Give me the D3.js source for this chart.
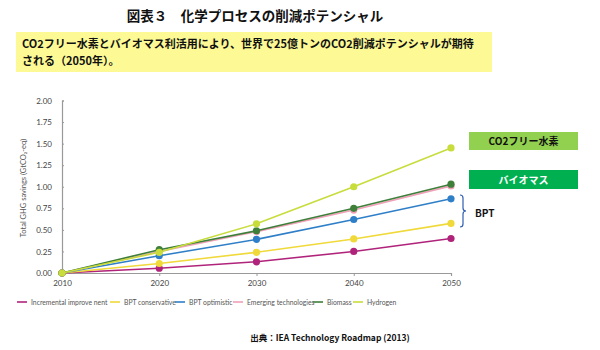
<!DOCTYPE html>
<html>
<head>
<meta charset="utf-8">
<script src="https://cdn.jsdelivr.net/npm/d3@7"></script>
<style>
  body { margin: 0; background: #fff; }
  svg { display: block; }
</style>
</head>
<body>
<div id="chart"></div>
<script>
var years = [2010, 2020, 2030, 2040, 2050];
var yTicks = [0, 0.25, 0.5, 0.75, 1.0, 1.25, 1.5, 1.75, 2.0];

var incremental = [0, 0.055, 0.13, 0.25, 0.40];
var bptConservative = [0, 0.11, 0.24, 0.395, 0.575];
var bptOptimistic = [0, 0.20, 0.39, 0.62, 0.86];
var emerging = [0, 0.25, 0.48, 0.73, 1.01];
var biomass = [0, 0.27, 0.49, 0.75, 1.03];
var hydrogen = [0, 0.24, 0.57, 1.00, 1.45];

var seriesNames = ["Incremental improve nent", "BPT conservative", "BPT optimistic",
    "Emerging technologies", "Biomass", "Hydrogen"];
var seriesColors = ["#b0237a", "#f0d93a", "#2f7fc8", "#f0a0b8", "#3e7f3a", "#c8dc3c"];
var seriesValues = [incremental, bptConservative, bptOptimistic, emerging, biomass, hydrogen];

var series = seriesNames.map(function (name, i) {
    return {name: name, color: seriesColors[i],
        points: years.map(function (yr, j) { return {x: yr, y: seriesValues[i][j]}; })};
});

var svg = d3.select("#chart").append("svg")
    .attr("width", 600)
    .attr("height", 350);

var jp = "'Noto Sans CJK JP', sans-serif";
var latin = "Lato, 'Open Sans', sans-serif";

// title
svg.append("text")
    .attr("x", 255).attr("y", 21)
    .attr("text-anchor", "middle")
    .attr("font-family", jp).attr("font-weight", "bold")
    .attr("font-size", 13.5).attr("fill", "#111")
    .text("図表３　化学プロセスの削減ポテンシャル");

// yellow note box
svg.append("rect")
    .attr("x", 16).attr("y", 32).attr("width", 476).attr("height", 40)
    .attr("fill", "#fdfa96");
svg.append("text")
    .attr("x", 22).attr("y", 48)
    .attr("font-family", jp).attr("font-weight", "bold")
    .attr("font-size", 11).attr("fill", "#111")
    .text("CO2フリー水素とバイオマス利活用により、世界で25億トンのCO2削減ポテンシャルが期待");
svg.append("text")
    .attr("x", 22).attr("y", 65)
    .attr("font-family", jp).attr("font-weight", "bold")
    .attr("font-size", 11).attr("fill", "#111")
    .text("される（2050年）。");

// plot
var x = d3.scaleLinear().domain([2010, 2050]).range([62, 451]);
var y = d3.scaleLinear().domain([0, 2]).range([273, 100.5]);

var xAxis = svg.append("g")
    .attr("transform", "translate(0,273)")
    .call(d3.axisBottom(x).tickValues(years).tickFormat(d3.format("d")).tickSize(3));
xAxis.select(".domain").attr("stroke", "#999").attr("stroke-width", 1.2);
xAxis.selectAll(".tick line").attr("stroke", "#999");
xAxis.selectAll("text")
    .attr("font-family", latin).attr("font-size", 8).attr("fill", "#444")
    .attr("dy", "0.9em");

var yAxis = svg.append("g")
    .attr("transform", "translate(62,0)")
    .call(d3.axisLeft(y).tickValues(yTicks).tickFormat(d3.format(".2f")).tickSize(-2).tickPadding(10));
yAxis.select(".domain").attr("stroke", "#999").attr("stroke-width", 1.2);
yAxis.selectAll(".tick line").attr("stroke", "#999");
yAxis.selectAll("text")
    .attr("font-family", latin).attr("font-size", 8).attr("fill", "#444");

svg.append("text")
    .attr("transform", "translate(26,188) rotate(-90)")
    .attr("text-anchor", "middle")
    .attr("font-family", latin).attr("font-size", 7.5).attr("fill", "#555")
    .text("Total GHG savings (GtCO₂-eq)");

var line = d3.line()
    .x(function (d) { return x(d.x); })
    .y(function (d) { return y(d.y); });

var groups = svg.append("g").selectAll("g")
    .data(series)
    .enter()
    .append("g");

groups.append("path")
    .attr("d", function (d) { return line(d.points); })
    .attr("fill", "none")
    .attr("stroke", function (d) { return d.color; })
    .attr("stroke-width", 1.6);

groups.selectAll("circle")
    .data(function (d) { return d.points.map(function (p) { return {x: p.x, y: p.y, color: d.color}; }); })
    .enter()
    .append("circle")
    .attr("cx", function (d) { return x(d.x); })
    .attr("cy", function (d) { return y(d.y); })
    .attr("r", 3.6)
    .attr("fill", function (d) { return d.color; });

// legend
var legendX = [17, 110, 175, 233, 313, 353];
var legend = svg.append("g").selectAll("g")
    .data(series)
    .enter()
    .append("g")
    .attr("transform", function (d, i) { return "translate(" + legendX[i] + ",302)"; });
legend.append("line")
    .attr("x1", 0).attr("x2", 10)
    .attr("stroke", function (d) { return d.color; })
    .attr("stroke-width", 1.6);
legend.append("text")
    .attr("x", 14).attr("y", 2.5)
    .attr("font-family", latin).attr("font-size", 6.8).attr("fill", "#555")
    .text(function (d) { return d.name; });

// right-side labels
svg.append("rect")
    .attr("x", 469).attr("y", 132).attr("width", 109).attr("height", 18)
    .attr("fill", "#92d050");
svg.append("text")
    .attr("x", 523.5).attr("y", 145)
    .attr("text-anchor", "middle")
    .attr("font-family", jp).attr("font-weight", "bold")
    .attr("font-size", 10).attr("fill", "#111")
    .text("CO2フリー水素");

svg.append("rect")
    .attr("x", 469).attr("y", 170).attr("width", 109).attr("height", 19)
    .attr("fill", "#00b050");
svg.append("text")
    .attr("x", 523.5).attr("y", 183.5)
    .attr("text-anchor", "middle")
    .attr("font-family", jp).attr("font-weight", "bold")
    .attr("font-size", 10).attr("fill", "#fff")
    .text("バイオマス");

// BPT bracket
svg.append("path")
    .attr("d", "M460,195 Q463,195 463,198 L463,208 Q463,211 466,211 Q463,211 463,214 L463,224 Q463,227 460,227")
    .attr("fill", "none")
    .attr("stroke", "#2f5fb0")
    .attr("stroke-width", 1.2);
svg.append("text")
    .attr("x", 475).attr("y", 217)
    .attr("font-family", jp).attr("font-weight", "bold")
    .attr("font-size", 10).attr("fill", "#111")
    .text("BPT");

// source
svg.append("text")
    .attr("x", 330).attr("y", 341)
    .attr("text-anchor", "middle")
    .attr("font-family", jp).attr("font-weight", "bold")
    .attr("font-size", 8.5).attr("fill", "#111")
    .text("出典：IEA Technology Roadmap (2013)");
</script>
</body>
</html>
